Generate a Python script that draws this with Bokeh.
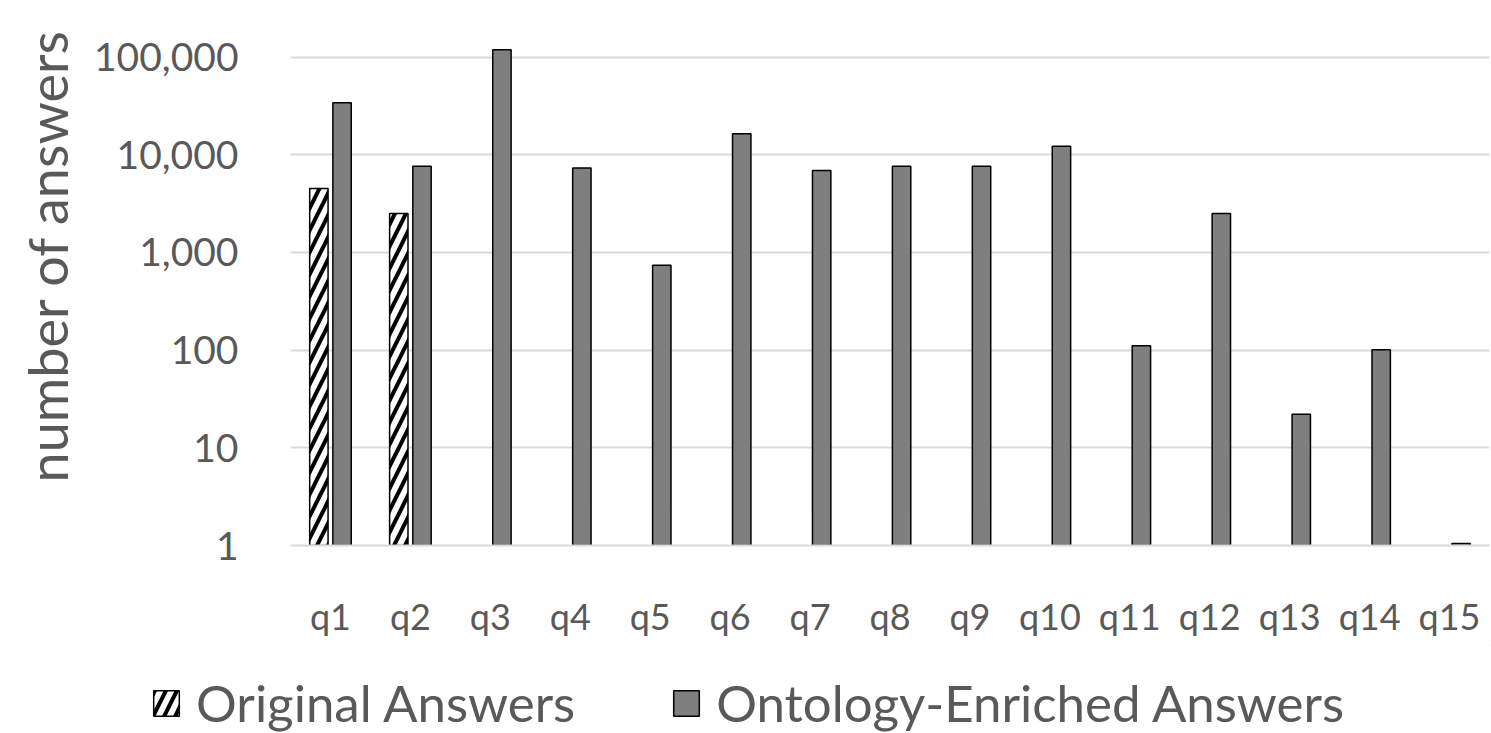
from bokeh.plotting import figure
from bokeh.layouts import column
from bokeh.models import (FactorRange, Range1d, FixedTicker, NumeralTickFormatter,
                          Legend, LegendItem, Title, ColumnDataSource)
from bokeh.transform import dodge
from bokeh.embed import file_html
from bokeh.resources import INLINE

queries = ["q1", "q2", "q3", "q4", "q5", "q6", "q7", "q8", "q9", "q10",
           "q11", "q12", "q13", "q14", "q15"]
original = [4500, 2500, None, None, None, None, None, None, None, None,
            None, None, None, None, None]
enriched = [34000, 7600, 119000, 7300, 740, 16400, 6900, 7600, 7600, 12200,
            111, 2500, 22, 101, 1.05]
y_ticks = [1, 10, 100, 1000, 10000, 100000]
series_names = ["Original Answers", "Ontology-Enriched Answers"]

FONT = "Lato"
TXT = "#595959"
ORIG_STYLE = dict(fill_color="white", line_color="black", line_width=1.5,
                  hatch_pattern="/", hatch_color="black", hatch_weight=4, hatch_scale=22)
ENR_STYLE = dict(fill_color="#7f7f7f", line_color="black", line_width=1.5)

p = figure(width=1490, height=645, x_range=FactorRange(*queries),
           y_axis_type="log", y_range=Range1d(1, 147600),
           output_backend="svg", toolbar_location=None,
           min_border_left=290, min_border_right=1, min_border_top=40,
           min_border_bottom=100)
p.outline_line_color = None

o_q = [q for q, v in zip(queries, original) if v is not None]
o_v = [v for v in original if v is not None]
src_o = ColumnDataSource(dict(q=o_q, v=o_v))
src_e = ColumnDataSource(dict(q=queries, v=enriched))

p.vbar(x=dodge("q", -0.145, range=p.x_range), top="v", bottom=1, width=0.23,
       source=src_o, **ORIG_STYLE)
p.vbar(x=dodge("q", 0.145, range=p.x_range), top="v", bottom=1, width=0.23,
       source=src_e, **ENR_STYLE)

p.xgrid.grid_line_color = None
p.ygrid.grid_line_color = "#d9d9d9"
p.ygrid.grid_line_width = 2

p.yaxis.ticker = FixedTicker(ticks=y_ticks, minor_ticks=[])
p.yaxis.formatter = NumeralTickFormatter(format="0,0")
p.yaxis.axis_line_color = None
p.yaxis.major_tick_line_color = None
p.yaxis.minor_tick_line_color = None
p.yaxis.major_label_standoff = 46
p.yaxis.major_label_text_font = FONT
p.yaxis.major_label_text_font_size = "39px"
p.yaxis.major_label_text_color = TXT

p.xaxis.axis_line_color = "#d9d9d9"
p.xaxis.axis_line_width = 2
p.xaxis.major_tick_line_color = None
p.xaxis.minor_tick_line_color = None
p.xaxis.major_label_standoff = 42
p.xaxis.major_label_text_font = FONT
p.xaxis.major_label_text_font_size = "36px"
p.xaxis.major_label_text_color = TXT

ytitle = Title(text="number of answers", align="left", offset=63,
               text_font=FONT, text_font_size="54px", text_color=TXT,
               text_font_style="normal", standoff=22)
p.add_layout(ytitle, "left")

# legend strip below the chart (own frame, not aligned with the chart's frame)
lg = figure(width=1490, height=88, x_range=(0, 1), y_range=(0, 1),
            output_backend="svg", toolbar_location=None,
            min_border_left=0, min_border_right=0,
            min_border_top=0, min_border_bottom=0)
lg.frame_align = False
lg.axis.visible = False
lg.grid.visible = False
lg.outline_line_color = None
offscreen = ColumnDataSource(dict(x=[5], top=[5]))
lo = lg.vbar(x="x", top="top", bottom=4, width=0.1, source=offscreen, **ORIG_STYLE)
le = lg.vbar(x="x", top="top", bottom=4, width=0.1, source=offscreen, **ENR_STYLE)
legend = Legend(items=[LegendItem(label=series_names[0], renderers=[lo]),
                       LegendItem(label=series_names[1], renderers=[le])],
                orientation="horizontal", location=(150, 0),
                glyph_width=32, glyph_height=32, label_standoff=14, spacing=95,
                padding=0, margin=0, border_line_color=None,
                background_fill_alpha=0,
                label_text_font=FONT, label_text_font_size="51px",
                label_text_color=TXT, label_height=32)
lg.add_layout(legend, "center")

open("out.html", "w").write(file_html(column(p, lg, spacing=0), INLINE))
